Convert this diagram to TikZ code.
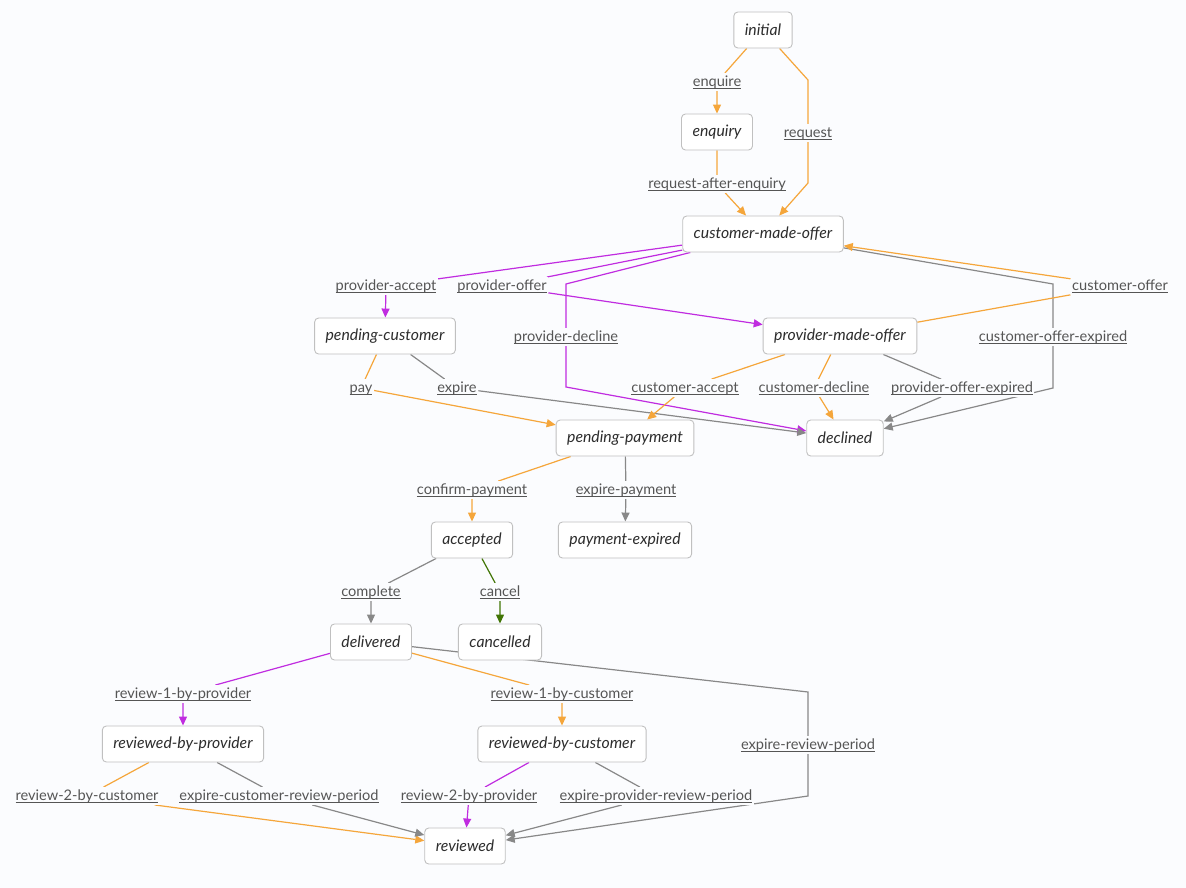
\documentclass[tikz,border=0pt]{standalone}
\usepackage{fontspec}
\setmainfont{Lato}
\usetikzlibrary{arrows.meta}

\definecolor{bgcol}{RGB}{251,252,254}
\definecolor{stateborder}{RGB}{192,192,192}
\definecolor{statetext}{RGB}{45,45,45}
\definecolor{labelgray}{RGB}{85,85,85}
\definecolor{orangeline}{RGB}{245,166,59}
\definecolor{purpleline}{RGB}{192,44,224}
\definecolor{grayline}{RGB}{136,136,136}
\definecolor{greenline}{RGB}{65,117,5}

% underlined transition name
\newcommand{\transname}[1]{\setbox0\hbox{#1}\rlap{\color{labelgray}\rule[-2.4pt]{\wd0}{0.8pt}}\box0}

\pgfdeclarelayer{back}
\pgfdeclarelayer{edges}
\pgfsetlayers{back,edges,main}

\tikzset{
	state/.style={draw=stateborder, fill=white, rounded corners=4pt, line width=0.9pt,
		minimum height=36pt, inner xsep=11pt, text=statetext,
		font=\fontsize{15.8}{18}\selectfont\itshape},
	trans/.style={fill=bgcol, inner xsep=1.5pt, inner ysep=2pt, text height=11.5pt, text depth=2pt,
		text=labelgray, font=\fontsize{14.6}{17}\selectfont},
	flow/.style={line width=1.2pt, -{Triangle[length=9pt,width=8pt]}},
	orangeflow/.style={flow, draw=orangeline},
	purpleflow/.style={flow, draw=purpleline},
	grayflow/.style={flow, draw=grayline},
	greenflow/.style={flow, draw=greenline},
}

\begin{document}
\begin{tikzpicture}[x=1pt, y=-1pt]
	\begin{pgfonlayer}{back}
		\fill[bgcol] (0,0) rectangle (1186,888);
	\end{pgfonlayer}
	\useasboundingbox (0,0) rectangle (1186,888);

	% states
	\node[state] (initial) at (763,30) {initial};
	\node[state] (enquiry) at (717,132) {enquiry};
	\node[state] (cmo) at (763,234) {customer-made-offer};
	\node[state] (pendcust) at (385,336) {pending-customer};
	\node[state] (pmo) at (840,336) {provider-made-offer};
	\node[state] (pendpay) at (625,438) {pending-payment};
	\node[state] (declined) at (845,438) {declined};
	\node[state] (accepted) at (472,540) {accepted};
	\node[state] (payexp) at (625,540) {payment-expired};
	\node[state] (delivered) at (371,642) {delivered};
	\node[state] (cancelled) at (500,642) {cancelled};
	\node[state] (revprov) at (183,744) {reviewed-by-provider};
	\node[state] (revcust) at (562,744) {reviewed-by-customer};
	\node[state] (reviewed) at (465,846) {reviewed};

	% transitions
	\node[trans] (enquire) at (717,82) {\transname{enquire}};
	\node[trans] (request) at (808,133) {\transname{request}};
	\node[trans] (reqafter) at (717,184) {\transname{request-after-enquiry}};
	\node[trans] (provacc) at (386,286) {\transname{provider-accept}};
	\node[trans] (provoff) at (502,286) {\transname{provider-offer}};
	\node[trans] (provdec) at (566,337) {\transname{provider-decline}};
	\node[trans] (custoff) at (1120,286) {\transname{customer-offer}};
	\node[trans] (custoffexp) at (1053,337) {\transname{customer-offer-expired}};
	\node[trans] (pay) at (361,388) {\transname{pay}};
	\node[trans] (expire) at (457,388) {\transname{expire}};
	\node[trans] (custacc) at (685,388) {\transname{customer-accept}};
	\node[trans] (custdec) at (814,388) {\transname{customer-decline}};
	\node[trans] (provoffexp) at (962,388) {\transname{provider-offer-expired}};
	\node[trans] (confpay) at (472,490) {\transname{confirm-payment}};
	\node[trans] (exppay) at (626,490) {\transname{expire-payment}};
	\node[trans] (complete) at (371,592) {\transname{complete}};
	\node[trans] (cancel) at (500,592) {\transname{cancel}};
	\node[trans] (rev1prov) at (183,694) {\transname{review-1-by-provider}};
	\node[trans] (rev1cust) at (562,694) {\transname{review-1-by-customer}};
	\node[trans] (exprev) at (808,745) {\transname{expire-review-period}};
	\node[trans] (rev2cust) at (87,796) {\transname{review-2-by-customer}};
	\node[trans] (expcustrev) at (279,796) {\transname{expire-customer-review-period}};
	\node[trans] (rev2prov) at (469,796) {\transname{review-2-by-provider}};
	\node[trans] (expprovrev) at (656,796) {\transname{expire-provider-review-period}};

	% bends
	\coordinate (rqa) at (808,80);
	\coordinate (rqb) at (808,183);
	\coordinate (pda) at (566,284);
	\coordinate (pdb) at (566,387);
	\coordinate (coa) at (1053,284);
	\coordinate (cob) at (1053,388);
	\coordinate (era) at (808,692);
	\coordinate (erb) at (808,796);

	\begin{pgfonlayer}{edges}
		\draw[orangeflow] (initial) -- (enquire) -- (enquiry);
		\draw[orangeflow] (initial) -- (rqa) -- (request) -- (rqb) -- (cmo);
		\draw[orangeflow] (enquiry) -- (reqafter) -- (cmo);
		\draw[purpleflow] (cmo) -- (provacc) -- (pendcust);
		\draw[purpleflow] (cmo) -- (provoff) -- (pmo);
		\draw[purpleflow] (cmo) -- (pda) -- (provdec) -- (pdb) -- (declined);
		\draw[grayflow] (cmo) -- (coa) -- (custoffexp) -- (cob) -- (declined);
		\draw[orangeflow] (pmo) -- (custoff) -- (cmo);
		\draw[orangeflow] (pendcust) -- (pay) -- (pendpay);
		\draw[grayflow] (pendcust) -- (expire) -- (declined);
		\draw[orangeflow] (pmo) -- (custacc) -- (pendpay);
		\draw[orangeflow] (pmo) -- (custdec) -- (declined);
		\draw[grayflow] (pmo) -- (provoffexp) -- (declined);
		\draw[orangeflow] (pendpay) -- (confpay) -- (accepted);
		\draw[grayflow] (pendpay) -- (exppay) -- (payexp);
		\draw[grayflow] (accepted) -- (complete) -- (delivered);
		\draw[greenflow] (accepted) -- (cancel) -- (cancelled);
		\draw[purpleflow] (delivered) -- (rev1prov) -- (revprov);
		\draw[orangeflow] (delivered) -- (rev1cust) -- (revcust);
		\draw[grayflow] (delivered) -- (era) -- (exprev) -- (erb) -- (reviewed);
		\draw[orangeflow] (revprov) -- (rev2cust) -- (reviewed);
		\draw[grayflow] (revprov) -- (expcustrev) -- (reviewed);
		\draw[purpleflow] (revcust) -- (rev2prov) -- (reviewed);
		\draw[grayflow] (revcust) -- (expprovrev) -- (reviewed);
	\end{pgfonlayer}
\end{tikzpicture}
\end{document}
